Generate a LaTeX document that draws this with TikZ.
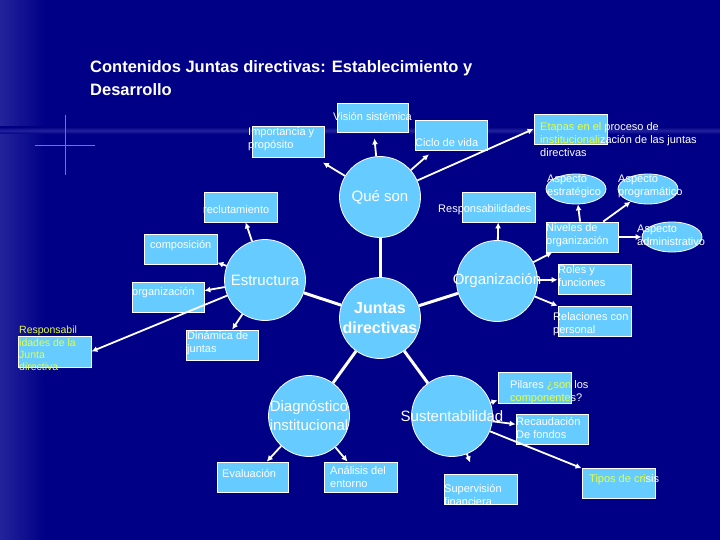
\documentclass[tikz,border=0pt]{standalone}
\usepackage{fontspec}
\setmainfont{Liberation Sans}
\usetikzlibrary{arrows.meta,shapes.geometric}
\definecolor{bg}{RGB}{0,0,135}
\definecolor{bgl}{RGB}{35,35,155}
\definecolor{lb}{RGB}{102,204,255}
\definecolor{yel}{RGB}{230,255,60}
\tikzset{
 bx/.style={draw=white,fill=lb,line width=0.8pt,inner sep=0pt},
 el/.style={ellipse,draw=white,fill=lb,line width=0.8pt,inner sep=0pt,minimum width=60pt,minimum height=30pt},
 circ/.style={circle,draw=white,fill=lb,line width=0.8pt,minimum size=81pt,inner sep=0pt},
 ctx/.style={inner sep=0pt,text=white,font=\fontsize{15}{17}\selectfont,align=center},
 tx/.style={anchor=west,inner sep=0pt,text=white,font=\fontsize{11}{13}\selectfont,align=left},
 conn/.style={white,line width=1.8pt,-{Latex[length=6pt,width=6pt]}},
 lnk/.style={white,line width=3pt},
}
\begin{document}
\begin{tikzpicture}[x=1pt,y=-1pt]
\useasboundingbox (0,0) rectangle (720,540);
\fill[bg] (0,0) rectangle (720,540);
\shade[left color=bgl,right color=bg] (0,0) rectangle (45,540);
\shade[top color=bg,bottom color=bg,middle color=bgl] (0,127) rectangle (720,134);
\draw[white!45!bg,line width=0.5pt] (65,115) -- (65,175) (35,145) -- (95,145);
% title
\node[anchor=north west,inner sep=0pt,text=white,align=left,font=\fontsize{16.5}{23}\selectfont\bfseries] (title) at (90,60) {Contenidos Juntas directivas: Establecimiento y\\Desarrollo};
% circles
\node[circ] (que) at (380,197) {};
\node[circ] (jun) at (380,318) {};
\node[circ] (est) at (265,280) {};
\node[circ] (org) at (497,281) {};
\node[circ] (dia) at (309,416) {};
\node[circ] (sus) at (452,416) {};
\node[ctx] (queT) at (que.center) {Qué son};
\node[ctx,font=\fontsize{16}{20}\selectfont\bfseries] (junT) at (jun.center) {Juntas\\directivas};
\node[ctx] (estT) at (est.center) {Estructura};
\node[ctx] (orgT) at (org.center) {Organización};
\node[ctx,font=\fontsize{15}{19}\selectfont] (diaT) at (dia.center) {Diagnóstico\\institucional};
\node[ctx] (susT) at (sus.center) {Sustentabilidad};
% boxes
\node[bx,minimum width=71pt,minimum height=29pt] (vis) at (372.5,117.5) {};
\node[bx,minimum width=72pt,minimum height=31pt] (imp) at (288,141.5) {};
\node[bx,minimum width=72pt,minimum height=30pt] (cic) at (451,135) {};
\node[bx,minimum width=73pt,minimum height=30pt] (eta) at (570.5,129) {};
\node[bx,minimum width=73pt,minimum height=30pt] (rec) at (240.5,207) {};
\node[bx,minimum width=73pt,minimum height=30pt] (res) at (498.5,207) {};
\node[bx,minimum width=73pt,minimum height=30pt] (com) at (180.5,249) {};
\node[bx,minimum width=72pt,minimum height=30pt] (org2) at (168,297) {};
\node[bx,minimum width=73pt,minimum height=31pt] (rjd) at (54.5,351.5) {};
\node[bx,minimum width=72pt,minimum height=30pt] (din) at (222,345) {};
\node[el] (aes) at (576,189) {};
\node[el] (apr) at (648,189) {};
\node[bx,minimum width=72pt,minimum height=30pt] (niv) at (582,237) {};
\node[el] (adm) at (672,237) {};
\node[bx,minimum width=73pt,minimum height=30pt] (rol) at (594.5,279) {};
\node[bx,minimum width=73pt,minimum height=30pt] (rel) at (594.5,321) {};
\node[bx,minimum width=73pt,minimum height=31pt] (pil) at (534.5,387.5) {};
\node[bx,minimum width=72pt,minimum height=30pt] (rcd) at (552,429) {};
\node[bx,minimum width=71pt,minimum height=30pt] (eva) at (252.5,477) {};
\node[bx,minimum width=73pt,minimum height=30pt] (ana) at (360.5,477) {};
\node[bx,minimum width=73pt,minimum height=30pt] (sup) at (480.5,489) {};
\node[bx,minimum width=73pt,minimum height=30pt] (tip) at (618.5,483) {};
% texts
\node[tx] (visT) at (333,117) {Visión sistémica};
\node[tx] (impT) at (248,139) {Importancia y\\propósito};
\node[tx] (cicT) at (415,143) {Ciclo de vida};
\node[tx] (etaT) at (540,140) {\textcolor{yel}{Etapas en el} proceso de\\\textcolor{yel}{institucionali}zación de las juntas\\directivas};
\node[tx] (recT) at (203,210) {reclutamiento};
\node[tx] (resT) at (438,210) {Responsabilidades};
\node[tx] (comT) at (150,246) {composición};
\node[tx] (org2T) at (132,293) {organización};
\node[tx,text=yel,font=\fontsize{10.5}{12.3}\selectfont] (rjdT) at (19,348.5) {Responsabil\\idades de la\\Junta\\directiva};
\node[tx] (dinT) at (187,343.5) {Dinámica de\\juntas};
\node[tx] (aesT) at (547,186.5) {Aspecto\\estratégico};
\node[tx] (aprT) at (618,186.5) {Aspecto\\programático};
\node[tx] (nivT) at (546,235.5) {Niveles de\\organización};
\node[tx] (admT) at (637,235) {Aspecto\\administrativo};
\node[tx] (rolT) at (558,276.5) {Roles y\\funciones};
\node[tx] (relT) at (553,324.5) {Relaciones con\\personal};
\node[tx] (pilT) at (510,392) {Pilares \textcolor{yel}{¿son} los\\\textcolor{yel}{componente}s?};
\node[tx] (rcdT) at (516,428) {Recaudación\\De fondos};
\node[tx] (evaT) at (222,474) {Evaluación};
\node[tx] (anaT) at (330,477) {Análisis del\\entorno};
\node[tx] (supT) at (444,495) {Supervisión\\financiera};
\node[tx] (tipT) at (589,480) {\textcolor{yel}{Tipos de cri}sis};
% links from center
\draw[lnk] (jun) -- (que);
\draw[lnk] (jun) -- (est);
\draw[lnk] (jun) -- (org);
\draw[lnk] (jun) -- (dia);
\draw[lnk] (jun) -- (sus);
% Qué son
\draw[conn,shorten >=10pt] (que) -- (imp);
\draw[conn,shorten >=6pt] (que) -- (vis);
\draw[conn,shorten >=6pt] (que) -- (cic);
\draw[conn] (que) -- (eta.west);
% Estructura
\draw[conn] (est) -- (rec);
\draw[conn] (est) -- (com);
\draw[conn] (est) -- (org2);
\draw[conn] (est) -- (rjd.east);
\draw[conn] (est) -- (din);
% Organización
\draw[conn] (org) -- (res);
\draw[conn] (org) -- (niv);
\draw[conn] (org) -- (rol);
\draw[conn] (org) -- (rel);
\draw[conn] (niv) -- (aes);
\draw[conn] (niv) -- (apr);
\draw[conn] (niv) -- (adm);
% Diagnóstico
\draw[conn] (dia) -- (eva);
\draw[conn] (dia) -- (ana);
% Sustentabilidad
\draw[conn] (sus) -- (pil);
\draw[conn] (sus) -- (rcd);
\draw[conn,shorten >=12pt] (sus) -- (sup);
\draw[conn] (sus) -- (tip);
\end{tikzpicture}
\end{document}
